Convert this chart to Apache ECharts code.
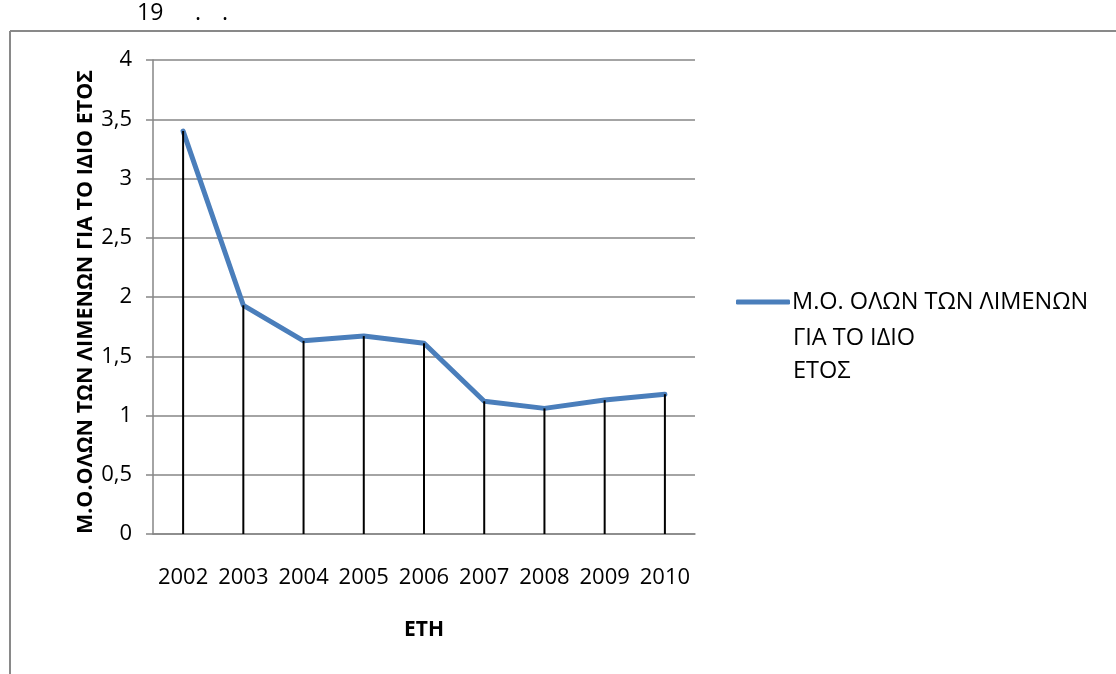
<!DOCTYPE html>
<html>
<head>
<meta charset="utf-8">
<script src="https://cdn.jsdelivr.net/npm/echarts@6/dist/echarts.min.js"></script>
<style>
html,body{margin:0;padding:0;background:#fff;}
#c{width:1116px;height:674px;}
</style>
</head>
<body>
<div id="c"></div>
<script>
const categories = ['2002','2003','2004','2005','2006','2007','2008','2009','2010'];
const values = [3.40, 1.93, 1.63, 1.67, 1.61, 1.12, 1.06, 1.13, 1.18];
const seriesName = 'Μ.Ο. ΟΛΩΝ ΤΩΝ ΛΙΜΕΝΩΝ ΓΙΑ ΤΟ ΙΔΙΟ ΕΤΟΣ';
const legendLine1 = 'Μ.Ο. ΟΛΩΝ ΤΩΝ ΛΙΜΕΝΩΝ';
const legendRest = 'ΓΙΑ ΤΟ ΙΔΙΟ\nΕΤΟΣ';
const yAxisTitle = 'Μ.Ο.ΟΛΩΝ ΤΩΝ ΛΙΜΕΝΩΝ ΓΙΑ ΤΟ ΙΔΙΟ ΕΤΟΣ';
const xAxisTitle = 'ΕΤΗ';
const topParts = ['19', '.', '.'];

const FONT = 'Open Sans';
const chart = echarts.init(document.getElementById('c'));
chart.setOption({
  animation: false,
  backgroundColor: '#fff',
  grid: {left: 153, right: 421, top: 60, bottom: 140, containLabel: false},
  legend: {
    left: 736, top: 290, padding: 0,
    data: [{name: seriesName, icon: 'roundRect'}],
    itemWidth: 54, itemHeight: 5, itemGap: 0,
    formatter: function(){ return legendLine1; },
    textStyle: {fontFamily: FONT, fontSize: 23.5, color: '#000', padding: [0,0,0,-3]}
  },
  xAxis: {
    type: 'category',
    data: categories,
    boundaryGap: true,
    axisLine: {show: true, lineStyle: {color: '#868686', width: 1.5}},
    axisTick: {show: false},
    axisLabel: {interval: 0, hideOverlap: false, fontFamily: FONT, fontSize: 22, color: '#000', margin: 33},
    name: xAxisTitle,
    nameLocation: 'middle',
    nameGap: 96,
    nameTextStyle: {fontFamily: FONT, fontSize: 21, fontWeight: 'bold', color: '#000', verticalAlign: 'middle'}
  },
  yAxis: {
    type: 'value',
    min: 0, max: 4, interval: 0.5,
    axisLine: {show: true, lineStyle: {color: '#868686', width: 1.5}},
    axisTick: {show: true, length: 7, lineStyle: {color: '#868686', width: 1.5}},
    splitLine: {show: true, lineStyle: {color: '#868686', width: 1.5}},
    axisLabel: {
      fontFamily: FONT, fontSize: 22, color: '#000', margin: 21,
      formatter: function(v){ return String(v).replace('.', ','); }
    },
    name: yAxisTitle,
    nameLocation: 'middle',
    nameGap: 65,
    nameRotate: 90,
    nameTextStyle: {fontFamily: FONT, fontSize: 21.5, fontWeight: 'bold', color: '#000', verticalAlign: 'middle', padding: [0, 10, 0, 0]}
  },
  series: [
    {
      name: seriesName,
      type: 'line',
      data: values,
      symbol: 'none',
      lineStyle: {color: '#4a7ebb', width: 5, cap: 'round', join: 'round'},
      itemStyle: {color: '#4a7ebb'},
      z: 2
    },
    {
      name: 'drop',
      type: 'bar',
      data: values,
      barWidth: 2,
      itemStyle: {color: '#000'},
      silent: true,
      z: 3
    }
  ],
  graphic: [
    {type: 'line', shape: {x1: 10, y1: 31, x2: 1116, y2: 31}, style: {stroke: '#898989', lineWidth: 2}},
    {type: 'line', shape: {x1: 10, y1: 31, x2: 10, y2: 674}, style: {stroke: '#898989', lineWidth: 2}},
    {type: 'text', left: 137, top: 2, style: {text: topParts[0], fontFamily: FONT, fontSize: 23, fill: '#000'}},
    {type: 'text', left: 195, top: 2, style: {text: topParts[1], fontFamily: FONT, fontSize: 23, fill: '#000'}},
    {type: 'text', left: 222, top: 2, style: {text: topParts[2], fontFamily: FONT, fontSize: 23, fill: '#000'}},
    {type: 'text', left: 793, top: 322, style: {text: legendRest, fontFamily: FONT, fontSize: 23.5, lineHeight: 33, fill: '#000'}}
  ]
});
</script>
</body>
</html>
